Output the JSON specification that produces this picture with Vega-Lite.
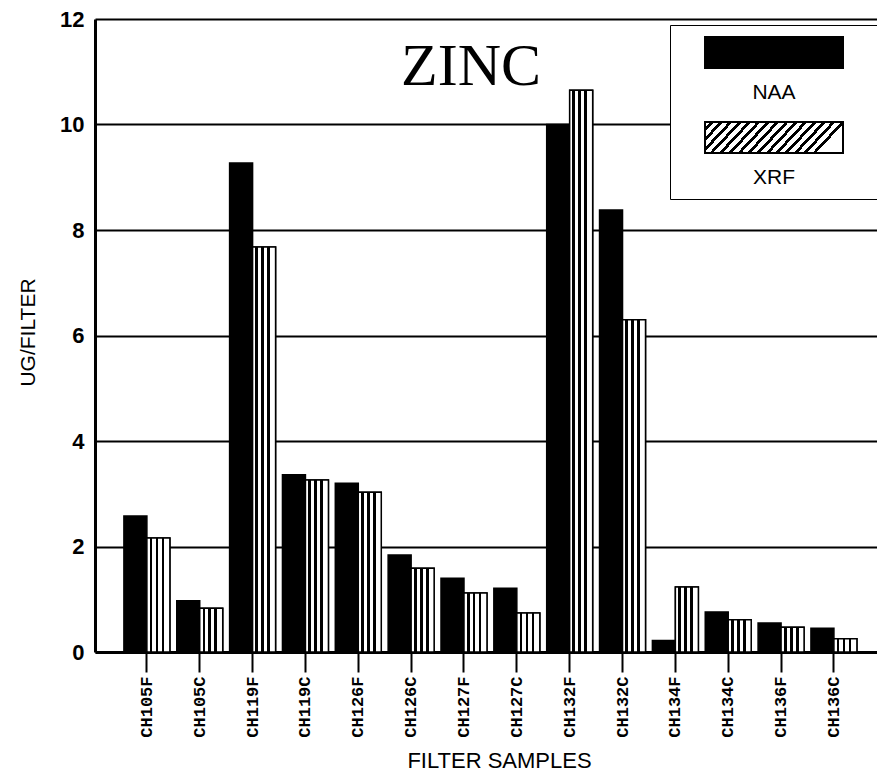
{
  "$schema": "https://vega.github.io/schema/vega-lite/v6.json",
  "width": 782,
  "height": 633,
  "autosize": {"type": "none"},
  "padding": {"left": 95, "top": 19, "right": 0, "bottom": 124},
  "background": "white",
  "config": {"view": {"stroke": null}},
  "datasets": {
    "zinc": [
      {"sample": "CH105F", "series": "NAA", "value": 2.58},
      {"sample": "CH105F", "series": "XRF", "value": 2.16},
      {"sample": "CH105C", "series": "NAA", "value": 0.97},
      {"sample": "CH105C", "series": "XRF", "value": 0.83},
      {"sample": "CH119F", "series": "NAA", "value": 9.27},
      {"sample": "CH119F", "series": "XRF", "value": 7.68},
      {"sample": "CH119C", "series": "NAA", "value": 3.36},
      {"sample": "CH119C", "series": "XRF", "value": 3.26},
      {"sample": "CH126F", "series": "NAA", "value": 3.2},
      {"sample": "CH126F", "series": "XRF", "value": 3.03},
      {"sample": "CH126C", "series": "NAA", "value": 1.84},
      {"sample": "CH126C", "series": "XRF", "value": 1.59},
      {"sample": "CH127F", "series": "NAA", "value": 1.4},
      {"sample": "CH127F", "series": "XRF", "value": 1.12},
      {"sample": "CH127C", "series": "NAA", "value": 1.21},
      {"sample": "CH127C", "series": "XRF", "value": 0.74},
      {"sample": "CH132F", "series": "NAA", "value": 10.0},
      {"sample": "CH132F", "series": "XRF", "value": 10.65},
      {"sample": "CH132C", "series": "NAA", "value": 8.38},
      {"sample": "CH132C", "series": "XRF", "value": 6.3},
      {"sample": "CH134F", "series": "NAA", "value": 0.22},
      {"sample": "CH134F", "series": "XRF", "value": 1.23},
      {"sample": "CH134C", "series": "NAA", "value": 0.76},
      {"sample": "CH134C", "series": "XRF", "value": 0.61},
      {"sample": "CH136F", "series": "NAA", "value": 0.55},
      {"sample": "CH136F", "series": "XRF", "value": 0.47},
      {"sample": "CH136C", "series": "NAA", "value": 0.45},
      {"sample": "CH136C", "series": "XRF", "value": 0.25}
    ],
    "heading": [{"label": "ZINC"}]
  },
  "layer": [
    {
      "data": {"name": "zinc"},
      "mark": {"type": "bar", "stroke": "black", "strokeWidth": 1.5},
      "encoding": {
        "x": {
          "field": "sample",
          "type": "nominal",
          "sort": null,
          "scale": {"paddingInner": 0.13, "paddingOuter": 0.4635, "align": 0.59},
          "axis": {
            "title": "FILTER SAMPLES",
            "titleFont": "Liberation Sans",
            "titleFontSize": 22,
            "titleFontWeight": "normal",
            "titleColor": "black",
            "titleX": 404,
            "titleY": 108,
            "titleAlign": "center",
            "titleBaseline": "middle",
            "labelAngle": 270,
            "labelFont": "Liberation Mono",
            "labelFontWeight": "bold",
            "labelFontSize": 17,
            "labelColor": "black",
            "labelPadding": 4,
            "domainColor": "black",
            "domainWidth": 3,
            "tickColor": "black",
            "tickWidth": 2,
            "tickSize": 20,
            "grid": false
          }
        },
        "xOffset": {
          "field": "series",
          "type": "nominal",
          "scale": {"paddingInner": 0, "paddingOuter": 0}
        },
        "y": {
          "field": "value",
          "type": "quantitative",
          "scale": {"domain": [0, 12], "nice": false},
          "axis": {
            "title": "UG/FILTER",
            "titleFont": "Liberation Sans",
            "titleFontSize": 21,
            "titleFontWeight": "normal",
            "titleColor": "black",
            "titleAngle": 270,
            "titleX": -67,
            "titleY": 313,
            "titleAlign": "center",
            "titleBaseline": "middle",
            "values": [0, 2, 4, 6, 8, 10, 12],
            "labelFont": "Liberation Sans",
            "labelFontWeight": "bold",
            "labelFontSize": 22,
            "labelColor": "black",
            "labelPadding": 11,
            "ticks": false,
            "domainColor": "black",
            "domainWidth": 3,
            "grid": true,
            "gridColor": "black",
            "gridWidth": 2,
            "gridOpacity": 1
          }
        },
        "fill": {
          "field": "series",
          "type": "nominal",
          "scale": {
            "domain": ["NAA", "XRF"],
            "range": [
              "black",
              {"expr": "{gradient: 'linear', x1: 0, y1: 0, x2: 1, y2: 0.21, stops: [{offset: 0, color: 'white'}, {offset: 0.035, color: 'white'}, {offset: 0.035, color: 'black'}, {offset: 0.062, color: 'black'}, {offset: 0.062, color: 'white'}, {offset: 0.1, color: 'white'}, {offset: 0.1, color: 'black'}, {offset: 0.127, color: 'black'}, {offset: 0.127, color: 'white'}, {offset: 0.165, color: 'white'}, {offset: 0.165, color: 'black'}, {offset: 0.192, color: 'black'}, {offset: 0.192, color: 'white'}, {offset: 0.23, color: 'white'}, {offset: 0.23, color: 'black'}, {offset: 0.257, color: 'black'}, {offset: 0.257, color: 'white'}, {offset: 0.295, color: 'white'}, {offset: 0.295, color: 'black'}, {offset: 0.322, color: 'black'}, {offset: 0.322, color: 'white'}, {offset: 0.36, color: 'white'}, {offset: 0.36, color: 'black'}, {offset: 0.387, color: 'black'}, {offset: 0.387, color: 'white'}, {offset: 0.425, color: 'white'}, {offset: 0.425, color: 'black'}, {offset: 0.452, color: 'black'}, {offset: 0.452, color: 'white'}, {offset: 0.49, color: 'white'}, {offset: 0.49, color: 'black'}, {offset: 0.517, color: 'black'}, {offset: 0.517, color: 'white'}, {offset: 0.555, color: 'white'}, {offset: 0.555, color: 'black'}, {offset: 0.582, color: 'black'}, {offset: 0.582, color: 'white'}, {offset: 0.62, color: 'white'}, {offset: 0.62, color: 'black'}, {offset: 0.647, color: 'black'}, {offset: 0.647, color: 'white'}, {offset: 0.685, color: 'white'}, {offset: 0.685, color: 'black'}, {offset: 0.712, color: 'black'}, {offset: 0.712, color: 'white'}, {offset: 0.75, color: 'white'}, {offset: 0.75, color: 'black'}, {offset: 0.777, color: 'black'}, {offset: 0.777, color: 'white'}, {offset: 0.815, color: 'white'}, {offset: 0.815, color: 'black'}, {offset: 0.842, color: 'black'}, {offset: 0.842, color: 'white'}, {offset: 0.88, color: 'white'}, {offset: 0.88, color: 'black'}, {offset: 0.907, color: 'black'}, {offset: 0.907, color: 'white'}, {offset: 0.945, color: 'white'}, {offset: 0.945, color: 'black'}, {offset: 0.972, color: 'black'}, {offset: 0.972, color: 'white'}, {offset: 1, color: 'white'}]}"}
            ]
          },
          "legend": {
            "orient": "none",
            "legendX": 575,
            "legendY": 6,
            "title": null,
            "symbolType": "M2.2,-0.7M-0.589,-1H1.875V-0.4464H-0.589Z",
            "symbolSize": 12544,
            "symbolStrokeColor": "black",
            "symbolStrokeWidth": 2,
            "labelFont": "Liberation Sans",
            "labelFontSize": 21,
            "labelColor": "black",
            "labelAlign": "center",
            "labelBaseline": "middle",
            "labelOffset": -21,
            "rowPadding": 15,
            "padding": 11,
            "strokeColor": "black",
            "fillColor": "white",
            "cornerRadius": 0
          }
        }
      }
    },
    {
      "data": {"name": "zinc"},
      "transform": [{"filter": "datum.series === 'XRF'"}],
      "mark": {
        "type": "bar",
        "stroke": "black",
        "strokeWidth": 1.5,
        "fill": {
          "gradient": "linear",
          "x1": 0, "y1": 0, "x2": 1, "y2": 0,
          "stops": [
            {"offset": 0, "color": "white"},
            {"offset": 0.12, "color": "white"},
            {"offset": 0.12, "color": "black"},
            {"offset": 0.24, "color": "black"},
            {"offset": 0.24, "color": "white"},
            {"offset": 0.38, "color": "white"},
            {"offset": 0.38, "color": "black"},
            {"offset": 0.5, "color": "black"},
            {"offset": 0.5, "color": "white"},
            {"offset": 0.64, "color": "white"},
            {"offset": 0.64, "color": "black"},
            {"offset": 0.76, "color": "black"},
            {"offset": 0.76, "color": "white"},
            {"offset": 1, "color": "white"}
          ]
        }
      },
      "encoding": {
        "x": {"field": "sample", "type": "nominal", "sort": null},
        "xOffset": {"field": "series", "type": "nominal"},
        "y": {"field": "value", "type": "quantitative"}
      }
    },
    {
      "data": {"name": "heading"},
      "mark": {
        "type": "text",
        "font": "Liberation Serif",
        "fontSize": 60,
        "fontWeight": "normal",
        "fill": "black",
        "align": "center",
        "baseline": "alphabetic",
        "dx": 7
      },
      "encoding": {
        "x": {"datum": "CH127F", "type": "nominal"},
        "y": {"datum": 10.75, "type": "quantitative"},
        "text": {"field": "label"}
      }
    }
  ]
}
